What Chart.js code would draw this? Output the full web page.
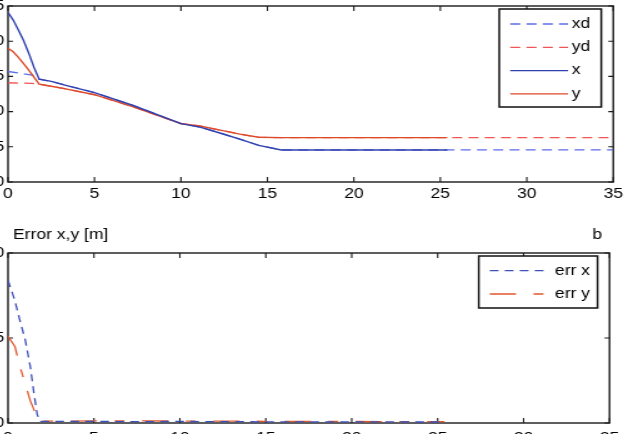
<!DOCTYPE html>
<html lang="en">
<head>
    <meta charset="UTF-8">
    <title>Position and error</title>
    <script src="https://cdn.jsdelivr.net/npm/chart.js"></script>
    <style>
        body { margin: 0; width: 627px; height: 434px; overflow: hidden; background: #fff; position: relative; }
        canvas { position: absolute; transform: scaleX(1.25); transform-origin: 0 0; }
        #posChart { left: -37px; top: -10px; }
        #errChart { left: -37px; top: 213px; }
    </style>
</head>
<body>
    <canvas id="posChart" width="532" height="216"></canvas>
    <canvas id="errChart" width="532" height="234"></canvas>

    <script>
        // time samples and values
        const tRun = [0, 0.3, 0.6, 0.9, 1.2, 1.5, 1.8, 2.5, 3.4, 5, 7.2, 10, 11.1, 12.2, 13.4, 14.5, 15.8, 20, 25.4];
        const xRun = [24.1, 23.0, 21.6, 20.1, 18.3, 16.3, 14.6, 14.3, 13.7, 12.7, 10.9, 8.3, 7.8, 7.0, 6.1, 5.2, 4.55, 4.55, 4.55];
        const yRun = [19.0, 18.5, 17.7, 16.8, 15.9, 14.9, 13.9, 13.6, 13.2, 12.4, 10.7, 8.3, 7.95, 7.4, 6.8, 6.35, 6.3, 6.3, 6.3];

        const tRef = [0, 1.4, 1.8, 2.5, 3.4, 5, 7.2, 10, 11.1, 12.2, 13.4, 14.5, 15.8, 25.4, 35];
        const xdRef = [15.7, 15.2, 14.6, 14.3, 13.7, 12.7, 10.9, 8.3, 7.8, 7.0, 6.1, 5.2, 4.55, 4.55, 4.55];
        const ydRef = [14.1, 14.0, 13.9, 13.6, 13.2, 12.4, 10.7, 8.3, 7.95, 7.4, 6.8, 6.35, 6.3, 6.3, 6.3];

        const tErr = [0, 0.4, 0.7, 1.0, 1.3, 1.5, 1.7, 1.85, 3, 5, 8, 10, 13, 15, 18, 20, 23, 25.4];
        const errX = [0.84, 0.72, 0.60, 0.49, 0.33, 0.18, 0.05, 0.01, 0.01, 0.009, 0.008, 0.009, 0.008, 0.007, 0.007, 0.007, 0.006, 0.006];
        const errY = [0.51, 0.45, 0.33, 0.23, 0.13, 0.08, 0.03, 0.01, 0.011, 0.012, 0.013, 0.011, 0.011, 0.01, 0.009, 0.009, 0.008, 0.008];

        const posTicksY = [0, 5, 10, 15, 20, 25];
        const errTicksY = [0, 0.5, 1];
        const tTicks = [0, 5, 10, 15, 20, 25, 30, 35];

        const pts = (ts, vs) => ts.map((t, i) => ({ x: t, y: vs[i] }));

        Chart.defaults.font.family = '"Liberation Sans", Arial, sans-serif';
        Chart.defaults.font.size = 14;
        Chart.defaults.color = '#000';

        // box with inward ticks on all four sides
        const frame = {
            id: 'frame',
            beforeDatasetsDraw(chart) {
                const { ctx, chartArea: a, scales: { x, y } } = chart;
                ctx.save();
                ctx.strokeStyle = '#1a1a1a';
                ctx.lineWidth = 1.4;
                ctx.strokeRect(a.left, a.top, a.width, a.height);
                ctx.lineWidth = 1.1;
                ctx.beginPath();
                x.ticks.forEach(t => {
                    const px = x.getPixelForValue(t.value);
                    ctx.moveTo(px, a.bottom); ctx.lineTo(px, a.bottom - 5);
                    ctx.moveTo(px, a.top); ctx.lineTo(px, a.top + 5);
                });
                y.ticks.forEach(t => {
                    const py = y.getPixelForValue(t.value);
                    ctx.moveTo(a.left, py); ctx.lineTo(a.left + 4, py);
                    ctx.moveTo(a.right, py); ctx.lineTo(a.right - 4, py);
                });
                ctx.stroke();
                ctx.restore();
            }
        };

        // matlab style legend box in the top right corner
        const boxLegend = {
            id: 'boxLegend',
            afterDraw(chart, args, o) {
                const { ctx, chartArea: a } = chart;
                const left = a.right - o.right - o.width;
                const top = a.top + o.top;
                ctx.save();
                ctx.fillStyle = '#fff';
                ctx.fillRect(left, top, o.width, o.height);
                ctx.strokeStyle = '#111';
                ctx.lineWidth = 1.5;
                ctx.strokeRect(left, top, o.width, o.height);
                ctx.font = '14px "Liberation Sans", Arial, sans-serif';
                ctx.textBaseline = 'middle';
                chart.data.datasets.forEach((ds, i) => {
                    const yy = top + o.row0 + i * o.rowGap;
                    ctx.strokeStyle = ds.borderColor;
                    ctx.lineWidth = ds.borderWidth;
                    ctx.setLineDash(ds.borderDash || []);
                    ctx.beginPath();
                    ctx.moveTo(left + o.line0, yy);
                    ctx.lineTo(left + o.line1, yy);
                    ctx.stroke();
                    ctx.setLineDash([]);
                    ctx.fillStyle = '#000';
                    ctx.fillText(ds.label, left + o.textX, yy);
                });
                ctx.restore();
            }
        };

        const cornerText = {
            id: 'cornerText',
            afterDraw(chart, args, o) {
                if (!o.left) return;
                const { ctx, chartArea: a } = chart;
                ctx.save();
                ctx.font = '14px "Liberation Sans", Arial, sans-serif';
                ctx.fillStyle = '#000';
                ctx.textBaseline = 'middle';
                ctx.textAlign = 'left';
                ctx.fillText(o.left, a.left + 4, a.top - 18);
                ctx.textAlign = 'right';
                ctx.fillText(o.right, a.right - 6, a.top - 18);
                ctx.restore();
            }
        };

        function axes(ticksY, labelPad) {
            return {
                x: {
                    type: 'linear', min: 0, max: 35,
                    grid: { display: false, drawTicks: false }, border: { display: false },
                    afterBuildTicks: s => { s.ticks = tTicks.map(v => ({ value: v })); },
                    ticks: { padding: labelPad, maxRotation: 0 },
                    afterFit: s => { s.height = 24; }
                },
                y: {
                    type: 'linear', min: ticksY[0], max: ticksY[ticksY.length - 1],
                    grid: { display: false, drawTicks: false }, border: { display: false },
                    afterBuildTicks: s => { s.ticks = ticksY.map(v => ({ value: v })); },
                    ticks: { padding: 3 },
                    afterFit: s => { s.width = 36; }
                }
            };
        }

        new Chart(document.getElementById('posChart'), {
            type: 'line',
            data: {
                datasets: [
                    { label: 'xd', data: pts(tRef, xdRef), borderColor: '#5b6ee8', borderWidth: 1.3, borderDash: [8, 5], order: 1 },
                    { label: 'yd', data: pts(tRef, ydRef), borderColor: '#ee5555', borderWidth: 1.3, borderDash: [8, 5], order: 1 },
                    { label: 'x', data: pts(tRun, xRun), borderColor: '#3040ae', borderWidth: 1.4, order: 0 },
                    { label: 'y', data: pts(tRun, yRun), borderColor: '#dc4a2a', borderWidth: 1.4, order: 0 }
                ]
            },
            options: {
                responsive: false,
                animation: false,
                layout: { padding: { top: 16, right: 10, left: 0, bottom: 0 } },
                elements: { point: { radius: 0 }, line: { tension: 0 } },
                scales: axes(posTicksY, 4),
                plugins: {
                    legend: { display: false },
                    tooltip: { enabled: false },
                    boxLegend: { right: 9.6, top: 3, width: 81.6, height: 98, row0: 15, rowGap: 23.3, line0: 8.8, line1: 55, textX: 58 }
                }
            },
            plugins: [frame, boxLegend]
        });

        new Chart(document.getElementById('errChart'), {
            type: 'line',
            data: {
                datasets: [
                    { label: 'err x', data: pts(tErr, errX), borderColor: '#3f4fb8', borderWidth: 1.3, borderDash: [7, 5] },
                    { label: 'err y', data: pts(tErr, errY), borderColor: '#e0582e', borderWidth: 1.3, borderDash: [21, 14, 8, 14] }
                ]
            },
            options: {
                responsive: false,
                animation: false,
                layout: { padding: { top: 40, right: 10, left: 0, bottom: 0 } },
                elements: { point: { radius: 0 }, line: { tension: 0 } },
                scales: axes(errTicksY, 7),
                plugins: {
                    legend: { display: false },
                    tooltip: { enabled: false },
                    boxLegend: { right: 9.6, top: 3, width: 95, height: 52, row0: 14.7, rowGap: 23.3, line0: 8.8, line1: 55, textX: 61 },
                    cornerText: { left: 'Error x,y [m]', right: 'b' }
                }
            },
            plugins: [frame, boxLegend, cornerText]
        });
    </script>
</body>
</html>
